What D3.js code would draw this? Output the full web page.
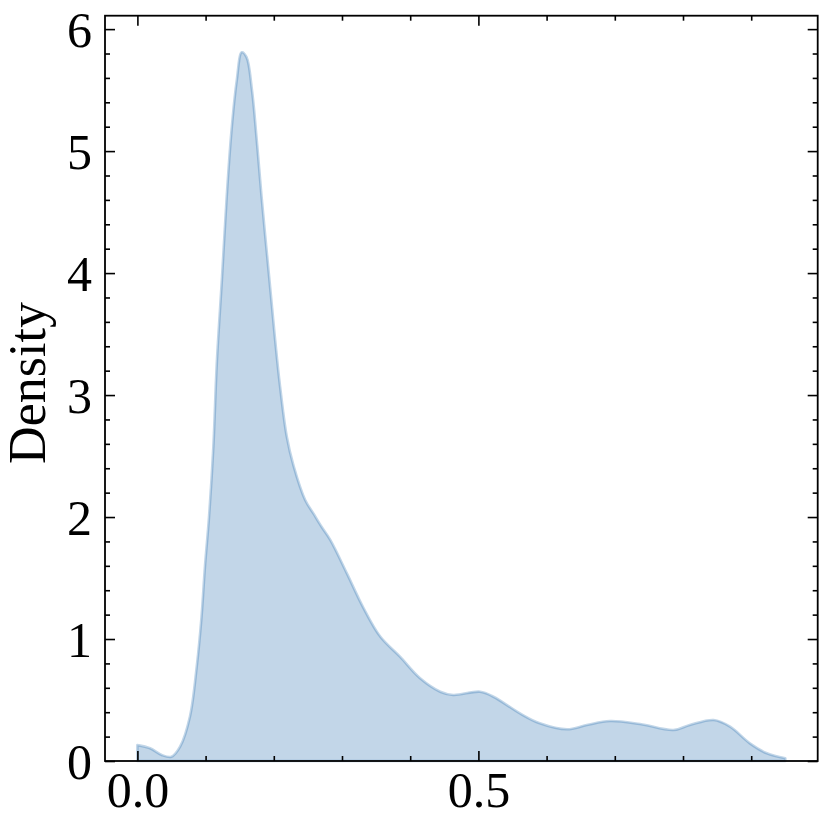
<!DOCTYPE html>
<html>
<head>
<meta charset="utf-8">
<script src="https://cdn.jsdelivr.net/npm/d3@7"></script>
<style>
  html, body { margin: 0; padding: 0; background: #fff; }
  text { font-family: "Liberation Serif", "DejaVu Serif", serif; fill: #000; }
</style>
</head>
<body>
<svg id="chart" width="829" height="829"></svg>
<script>
// Density curve (x value, density)
const xValues = [0, 0.0186, 0.0357, 0.05, 0.0626, 0.077, 0.087, 0.094, 0.099, 0.105, 0.1114, 0.1164, 0.1238, 0.131, 0.138, 0.1457, 0.153, 0.160, 0.168, 0.175, 0.182, 0.193, 0.202, 0.209, 0.219, 0.229, 0.246, 0.258, 0.270, 0.283, 0.307, 0.331, 0.356, 0.385, 0.4145, 0.444, 0.463, 0.5025, 0.522, 0.561, 0.590, 0.630, 0.659, 0.693, 0.737, 0.786, 0.810, 0.845, 0.869, 0.898, 0.923, 0.950];
const densityValues = [0.13, 0.104, 0.049, 0.035, 0.117, 0.363, 0.773, 1.18, 1.59, 2.0, 2.58, 3.26, 3.94, 4.63, 5.17, 5.58, 5.81, 5.77, 5.5, 5.09, 4.63, 3.98, 3.45, 3.08, 2.66, 2.42, 2.14, 2.03, 1.92, 1.81, 1.54, 1.26, 1.02, 0.855, 0.678, 0.568, 0.541, 0.568, 0.527, 0.39, 0.309, 0.26, 0.295, 0.328, 0.303, 0.254, 0.295, 0.336, 0.281, 0.145, 0.063, 0.022];
const xTickValues = [0.0, 0.5];
const xTickLabels = ["0.0", "0.5"];
const yTickValues = [0, 1, 2, 3, 4, 5, 6];
const yTickLabels = ["0", "1", "2", "3", "4", "5", "6"];
const yLabel = "Density";

(function () {
const svg = d3.select("#chart");
const pL = 105, pR = 817.7, pT = 15.7, pB = 761;
const x = d3.scaleLinear().domain([-0.0475, 0.9975]).range([pL, pR]);
const y = d3.scaleLinear().domain([0, 6.11]).range([pB, pT]);

const data = xValues.map((v, i) => ({x: v, y: densityValues[i]}));
const color = "#0C5DA5";

const area = d3.area()
  .x(d => x(d.x)).y0(y(0)).y1(d => y(d.y))
  .curve(d3.curveCatmullRom.alpha(0.5));

svg.append("path")
  .datum(data)
  .attr("d", area)
  .attr("fill", color).attr("fill-opacity", 0.25)
  .attr("stroke", color).attr("stroke-opacity", 0.25)
  .attr("stroke-width", 2.6)
  .attr("stroke-linejoin", "round");

// Axes
const fontSize = 50;
const major = 10, minor = 5;
const xMinor = d3.range(0, 0.99, 0.1).filter(v => !xTickValues.some(t => Math.abs(t - v) < 1e-9));
const yMinor = d3.range(0, 6.11, 0.2).filter(v => !yTickValues.some(t => Math.abs(t - v) < 1e-9));

const axB = d3.axisBottom(x).tickValues(xTickValues).tickFormat((d, i) => xTickLabels[i]).tickSize(-major).tickPadding(0);
const axT = d3.axisTop(x).tickValues(xTickValues).tickFormat("").tickSize(-major);
const axL = d3.axisLeft(y).tickValues(yTickValues).tickFormat((d, i) => yTickLabels[i]).tickSize(-major).tickPadding(0);
const axR = d3.axisRight(y).tickValues(yTickValues).tickFormat("").tickSize(-major);

const axBm = d3.axisBottom(x).tickValues(xMinor).tickFormat("").tickSize(-minor);
const axTm = d3.axisTop(x).tickValues(xMinor).tickFormat("").tickSize(-minor);
const axLm = d3.axisLeft(y).tickValues(yMinor).tickFormat("").tickSize(-minor);
const axRm = d3.axisRight(y).tickValues(yMinor).tickFormat("").tickSize(-minor);

function style(g) {
  g.selectAll(".domain").remove();
  g.selectAll(".tick line").attr("stroke", "#000").attr("stroke-width", 1.6);
}

const gB = svg.append("g").attr("transform", `translate(0,${pB})`).call(axB).call(style);
gB.selectAll("text").attr("font-size", fontSize).attr("font-family", "Liberation Serif, serif")
  .attr("y", 46).attr("dy", null).attr("fill", "#000");
svg.append("g").attr("transform", `translate(0,${pT})`).call(axT).call(style);
const gL = svg.append("g").attr("transform", `translate(${pL},0)`).call(axL).call(style);
gL.selectAll("text").attr("font-size", fontSize).attr("font-family", "Liberation Serif, serif")
  .attr("x", -13).attr("dy", null).attr("y", 17).attr("fill", "#000");
svg.append("g").attr("transform", `translate(${pR},0)`).call(axR).call(style);
svg.append("g").attr("transform", `translate(0,${pB})`).call(axBm).call(style);
svg.append("g").attr("transform", `translate(0,${pT})`).call(axTm).call(style);
svg.append("g").attr("transform", `translate(${pL},0)`).call(axLm).call(style);
svg.append("g").attr("transform", `translate(${pR},0)`).call(axRm).call(style);

// Frame
svg.append("rect")
  .attr("x", pL).attr("y", pT)
  .attr("width", pR - pL).attr("height", pB - pT)
  .attr("fill", "none").attr("stroke", "#000").attr("stroke-width", 1.8);

// Y label
svg.append("text")
  .attr("transform", `translate(45,383) rotate(-90)`)
  .attr("text-anchor", "middle")
  .attr("font-size", 52)
  .text(yLabel);
})();
</script>
</body>
</html>
